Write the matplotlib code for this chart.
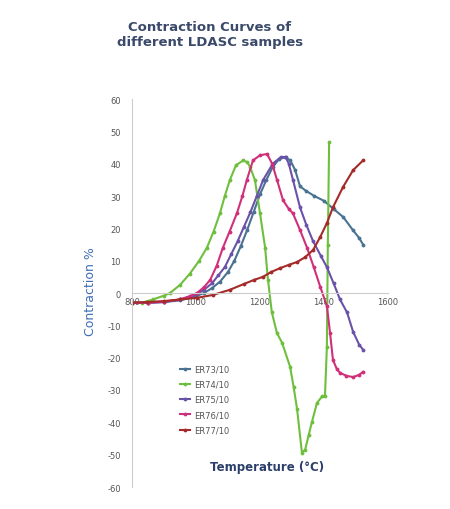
import matplotlib
matplotlib.use("Agg")
import matplotlib.pyplot as plt

plt.rcParams['axes.unicode_minus'] = False

series_names = ["ER73/10", "ER74/10", "ER75/10", "ER76/10", "ER77/10"]

er73_t = [800, 850, 900, 950, 1000, 1025, 1050, 1075, 1100, 1120, 1140, 1160, 1180, 1200, 1220, 1240, 1260, 1278, 1295, 1310, 1325, 1345, 1370, 1400, 1430, 1460, 1490, 1510, 1522]
er73_v = [-3, -3, -2.8, -2.3, -1, 0, 1.5, 3.5, 6.5, 10, 14.5, 19.5, 25, 30.5, 35, 39, 41.5, 42, 41, 38, 33, 31.5, 30, 28.5, 26, 23.5, 19.5, 17, 15]

er74_t = [800, 830, 866, 900, 919, 950, 981, 1010, 1034, 1055, 1075, 1090, 1106, 1125, 1147, 1160, 1169, 1184, 1200, 1216, 1225, 1237, 1253, 1269, 1294, 1305, 1316, 1331, 1341, 1352, 1362, 1378, 1394, 1403, 1409, 1412, 1416]
er74_v = [-3, -3, -2, -0.8, 0, 2.5, 6, 10, 14, 19, 24.7, 30, 35, 39.5, 41, 40.5, 39, 35, 24.7, 14, 4, -6, -12.4, -15.4, -22.8, -29, -36, -49.4, -48.5, -44, -40, -34, -32, -32, -16.6, 15, 46.6]

er75_t = [800, 850, 900, 950, 1000, 1025, 1050, 1070, 1090, 1110, 1130, 1150, 1170, 1190, 1210, 1240, 1265, 1280, 1290, 1303, 1325, 1345, 1366, 1390, 1409, 1430, 1450, 1472, 1491, 1510, 1522]
er75_v = [-3, -3, -2.8, -2, -0.5, 1, 3, 5.5, 8, 12, 16, 20.5, 25, 30, 35, 40, 42, 42, 40, 35, 26.5, 21, 16, 11.5, 8, 3, -2, -6, -12, -16, -17.5]

er76_t = [800, 850, 900, 950, 980, 1003, 1025, 1044, 1065, 1084, 1105, 1128, 1145, 1159, 1178, 1200, 1222, 1238, 1253, 1272, 1290, 1303, 1325, 1347, 1368, 1388, 1409, 1419, 1428, 1440, 1450, 1470, 1491, 1510, 1522]
er76_v = [-3, -3, -2.7, -2, -1, 0, 1.8, 4, 8.5, 14, 19, 24.7, 30, 35, 41, 42.6, 43, 40, 35, 28.7, 26, 24.6, 19.5, 14, 8, 2, -4, -12.4, -20.7, -23.5, -24.7, -25.6, -26, -25.3, -24.4]

er77_t = [800, 847, 900, 950, 1003, 1053, 1106, 1150, 1180, 1209, 1235, 1263, 1290, 1316, 1340, 1366, 1388, 1409, 1428, 1459, 1491, 1522]
er77_v = [-3, -2.8, -2.5, -2, -1.5, -0.6, 1, 2.8, 4, 5, 6.5, 7.7, 8.7, 9.6, 11, 13.3, 17.3, 21.6, 26.5, 32.7, 38, 41]

x_ticks = [800, 1000, 1200, 1400, 1600]
y_ticks = list(range(-60, 61, 10))

colors = ["#4a7391", "#6fbf3f", "#6a52a8", "#d0307a", "#a52a2a"]

fig = plt.figure(figsize=(4.5, 5.1), dpi=100)
ax = fig.add_axes([132/450, 1-488/510, (388-132)/450, (488-100)/510])

data = [(er73_t, er73_v), (er74_t, er74_v), (er75_t, er75_v), (er76_t, er76_v), (er77_t, er77_v)]
for (t, v), name, c in zip(data, series_names, colors):
    ax.plot(t, v, color=c, lw=1.5, marker='.', ms=3.5, label=name)

ax.set_xlim(800, 1600)
ax.set_ylim(-60, 60)
ax.set_xticks(x_ticks)
ax.set_yticks(y_ticks)
ax.spines['top'].set_visible(False)
ax.spines['right'].set_visible(False)
ax.spines['bottom'].set_position(('data', 0))
ax.spines['bottom'].set_color('#cccccc')
ax.spines['left'].set_color('#cccccc')
ax.tick_params(axis='both', length=0, labelsize=6, labelcolor='#555555')
ax.tick_params(axis='y', pad=8)
ax.tick_params(axis='x', pad=3)

fig.text(210/450, 1-35/510, "Contraction Curves of\ndifferent LDASC samples", ha='center', va='center',
         fontsize=9.5, fontweight='bold', color='#3b4a6b', linespacing=1.2)
fig.text(90/450, 1-292/510, "Contraction %", rotation=90, ha='center', va='center',
         fontsize=9, color='#3e6db5')
fig.text(267/450, 1-468/510, "Temperature (°C)", ha='center', va='center',
         fontsize=8.5, fontweight='bold', color='#2c3e6b')

leg = ax.legend(loc='upper left', bbox_to_anchor=(172/450, 1-358/510), bbox_transform=fig.transFigure,
                frameon=False, fontsize=6, handlelength=1.3, labelspacing=0.75, handletextpad=0.4)
for txt in leg.get_texts():
    txt.set_color('#555555')

fig.savefig("out.png", dpi=100, facecolor='white')
